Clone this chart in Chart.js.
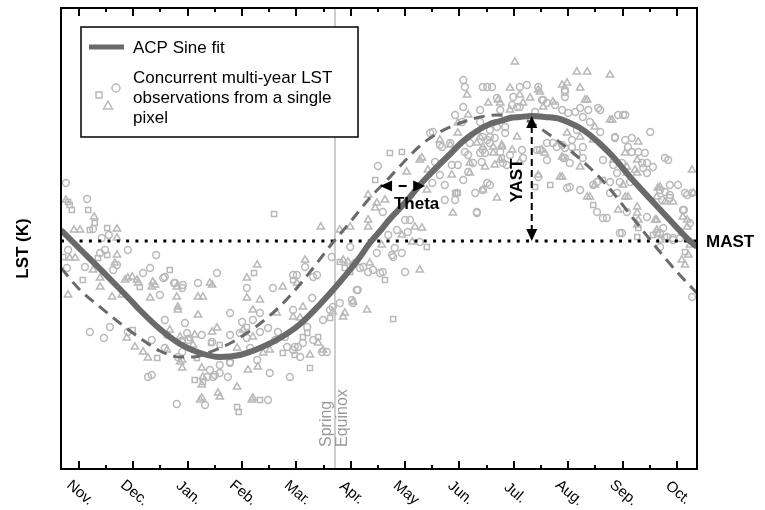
<!DOCTYPE html>
<html>
<head>
<meta charset="utf-8">
<title>LST annual cycle</title>
<script src="https://cdn.jsdelivr.net/npm/chart.js@4.4.1/dist/chart.umd.min.js"></script>
<style>
    html, body { margin: 0; padding: 0; background: #fff; }
    canvas { display: block; }
</style>
</head>
<body>
<canvas id="lst-chart" width="765" height="510"></canvas>
<script>
// x = months since start of Nov. (tick at each month), y = LST in K
const monthLabels = ['Nov.', 'Dec.', 'Jan.', 'Feb.', 'Mar.', 'Apr.', 'May', 'Jun.', 'Jul.', 'Aug.', 'Sep.', 'Oct.'];

const fitMonths = [-0.33, 0, 0.5, 1.0, 1.12, 1.49, 1.86, 2.23, 2.59, 2.96, 3.33, 3.70, 4.07, 4.44, 4.80, 5.17, 5.35, 5.54, 5.72, 5.91, 6.09, 6.27, 6.46, 6.64, 6.83, 7.01, 7.19, 7.38, 7.56, 7.75, 7.93, 8.11, 8.33, 8.57, 8.85, 9.03, 9.22, 9.40, 9.59, 9.83, 10.14, 10.51, 10.87, 11.24, 11.37];
const fitLST = [293.9, 292.1, 289.4, 286.6, 285.9, 284.0, 282.5, 281.6, 281.2, 281.4, 282.1, 283.1, 284.5, 286.5, 288.7, 291.2, 292.6, 293.8, 295.0, 296.1, 297.2, 298.4, 299.5, 300.5, 301.5, 302.5, 303.3, 304.0, 304.5, 304.8, 305.1, 305.2, 305.3, 305.2, 305.0, 304.6, 304.1, 303.4, 302.5, 301.2, 299.2, 297.0, 294.9, 292.8, 292.2];

// same cycle without the phase lag (dashed)
const shiftMonths = [-0.33, 0.02, 0.39, 0.75, 1.12, 1.49, 1.86, 2.13, 2.36, 2.72, 3.09, 3.46, 3.83, 4.25, 4.62, 4.99, 5.35, 5.67, 5.96, 6.27, 6.64, 7.01, 7.38, 7.69, 8.02, 8.30, 8.61, 8.91, 9.22, 9.59, 9.83, 10.19, 10.75, 11.02, 11.28, 11.37];
const shiftLST = [290.1, 287.9, 286.2, 284.6, 283.1, 281.8, 281.2, 281.2, 281.6, 282.4, 283.6, 285.1, 287.0, 289.7, 292.3, 294.7, 297.1, 298.9, 300.6, 302.3, 303.7, 304.6, 305.2, 305.4, 305.2, 304.7, 303.6, 302.4, 301.0, 299.1, 297.6, 295.1, 291.3, 289.6, 288.1, 287.6];

const obsCircles = [
    [-0.24,298.6],[0.15,297.0],[0.26,294.0],[0.42,293.1],[0.55,293.4],[0.90,291.9],[1.42,291.4],[-0.20,291.9],[-0.22,290.1],[0.11,290.2],
    [0.48,291.9],[0.63,289.9],[1.31,290.1],[1.58,289.2],[1.18,289.6],[1.75,288.6],[1.91,288.4],[2.19,288.6],[2.54,289.6],[1.49,287.4],
    [0.20,283.7],[0.46,283.1],[0.57,284.2],[0.90,283.7],[1.34,282.9],[1.34,279.4],[1.27,279.2],[1.62,283.4],[1.90,281.7],[2.01,282.9],
    [2.26,283.4],[2.47,279.2],[2.59,279.6],[2.74,279.2],[1.80,276.5],[2.32,276.4],[3.48,276.9],[2.59,280.4],[2.78,280.6],[2.78,285.6],
    [3.00,284.7],[3.09,288.1],[3.51,279.6],[3.88,279.2],[3.94,281.9],[4.03,282.2],[4.31,282.9],[4.47,281.7],[3.57,288.1],[4.01,289.4],
    [4.31,289.2],[4.29,287.1],[4.49,284.9],[5.13,287.9],[5.02,286.9],[4.65,291.2],[5.17,290.1],[5.41,289.9],[5.54,289.6],[5.50,300.3],
    [0.39,291.6],[0.70,290.4],[1.55,289.1],[1.77,288.6],[1.90,288.1],[1.58,284.9],[1.95,284.6],[3.20,284.9],[3.33,285.6],[3.94,289.4],
    [4.16,290.2],[4.38,289.4],[3.94,285.9],[4.20,284.2],[4.62,285.9],[4.67,286.2],[1.99,283.6],[2.45,282.7],[2.78,283.4],[2.96,283.6],
    [3.09,283.1],[3.33,283.7],[3.48,284.1],[3.66,283.7],[3.61,282.9],[3.28,280.9],[3.15,282.1],[3.79,283.2],[3.83,282.2],[3.97,282.2],
    [4.07,281.2],[4.12,282.6],[4.56,281.7],[1.58,282.1],[1.82,281.2],[2.41,279.9],[2.78,280.7],[2.36,279.2],[2.50,279.4],
    [6.46,303.6],[6.64,302.4],[6.55,300.7],[6.64,299.4],[6.73,298.4],[6.50,298.6],[7.07,298.9],[7.51,302.9],[7.16,301.4],[7.41,300.7],
    [6.97,300.4],[7.75,301.7],[7.80,300.6],[7.56,298.4],[6.95,297.6],[6.92,296.9],[6.73,296.9],[7.32,295.6],[5.59,295.7],[6.00,294.9],
    [6.09,294.9],[5.85,293.9],[5.69,293.4],[6.05,293.7],[6.27,292.7],[6.00,289.7],[5.76,291.4],[5.81,292.1],[5.48,291.6],[4.99,292.2],
    [5.08,290.6],[5.23,290.2],[5.32,289.7],[5.11,287.9],[4.80,286.6],[5.04,286.6],[5.78,291.2],[5.94,291.6],[5.59,289.7],
    [7.07,308.9],[7.10,308.2],[7.51,308.2],[8.11,308.2],[8.24,308.4],[8.45,308.2],[8.94,307.9],[8.94,307.2],[7.69,307.1],[7.99,307.2],
    [8.54,306.9],[7.07,306.2],[7.38,305.9],[6.92,305.4],[8.11,306.2],[8.39,305.7],[8.89,305.9],[9.00,305.6],[9.22,306.1],[9.27,305.2],
    [9.55,306.1],[9.92,305.4],[10.05,305.4],[9.40,304.7],[9.59,303.7],[9.16,303.9],[9.07,302.9],[9.86,303.2],[10.51,303.7],[10.05,302.9],
    [10.10,302.2],[10.17,301.7],[10.29,301.7],[10.41,301.6],[10.78,301.1],[10.36,300.6],[10.45,300.6],[10.56,300.2],[10.45,299.6],[10.87,298.4],
    [11.02,298.4],[11.15,297.6],[11.28,297.6],[11.13,295.9],[10.87,297.4],[10.75,294.1],[10.93,293.1],[6.51,303.7],[6.83,302.6],[6.68,302.2],
    [6.86,300.4],[7.10,301.7],[7.19,302.6],[7.56,303.2],[7.65,303.1],[7.38,301.6],[7.16,299.7],[7.87,300.4],[7.93,301.4],[7.84,303.6],
    [7.84,304.2],[8.15,301.9],[8.17,301.1],[8.48,301.9],[8.61,302.6],[8.89,302.4],[8.94,302.1],[9.07,302.2],[8.91,301.1],[8.98,298.1],
    [9.22,297.9],[9.16,301.6],[9.27,301.1],[8.72,302.6],[7.29,297.6],[7.32,295.7],[9.53,295.7],[9.71,295.1],[9.77,298.7],[9.90,299.6],
    [9.95,298.7],[10.08,295.7],[10.45,295.2],[10.63,293.6],[9.99,293.6],[10.93,292.9],[11.28,287.2],[10.84,300.9],[11.19,297.4],[11.11,295.9],
    [11.24,294.6],[10.69,292.2],[9.64,295.1],[9.95,293.6],[10.69,293.6],[10.82,293.2],[11.06,293.1],[9.77,297.6],[9.90,297.6],[9.46,298.4],
    [10.14,298.7],[10.38,300.1],[10.69,297.9],[10.78,297.7],[10.73,296.9],[10.87,297.1],[7.43,308.2],[7.60,308.2],[7.75,305.9],[7.97,306.4],
    [8.06,306.2],[8.52,306.9],[8.61,306.6],[8.76,306.4],[8.94,307.7],[9.13,305.7],[9.37,305.9],[9.59,305.9],[10.01,305.4],[10.17,303.1],
    [9.86,303.1],[7.05,304.7],[7.38,304.7],[7.56,303.9],[7.69,304.2],[7.43,303.2],[7.56,302.6],[7.43,301.9],[7.47,301.6],[7.25,300.6],
    [7.51,298.6],[7.43,297.9],[8.43,301.9],[8.61,300.9],[8.79,302.2],[8.94,301.1],[9.03,300.6],[9.03,298.2],[9.53,298.7],[9.27,302.2],
    [9.64,300.9],[9.83,300.4],[9.99,300.6],[8.45,299.2]
];

const obsSquares = [
    [-0.17,296.4],[-0.13,295.9],[0.17,295.9],[0.20,293.9],[0.52,294.1],[3.59,295.5],[5.45,298.9],[-0.20,296.7],[0.29,294.6],[-0.29,291.2],
    [0.07,288.9],[0.35,291.1],[1.67,289.9],[1.12,288.2],[0.99,283.9],[1.44,281.1],[2.17,281.1],[2.43,282.6],[2.13,278.9],[2.28,278.7],
    [2.91,276.2],[2.94,275.7],[3.33,276.9],[3.09,284.2],[3.22,289.6],[4.25,280.1],[3.75,281.6],[4.12,283.2],[3.94,288.9],[4.62,285.1],
    [4.80,290.7],[4.89,290.1],[4.99,289.7],[5.04,290.4],[0.52,291.4],[1.91,282.9],[2.04,283.1],[2.59,282.4],[3.97,281.4],[4.20,283.6],
    [4.40,283.2],[5.72,301.6],[5.94,301.7],[6.97,297.6],[6.40,292.2],[5.63,288.9],[5.78,285.0],[11.15,291.7],[7.78,301.1],[8.39,298.2],
    [8.67,298.4],[6.92,297.6],[9.46,296.4],[9.64,298.9],[10.27,293.2],[10.78,293.2],[10.29,294.1],[10.56,293.4]
];

const obsTriangles = [
    [-0.24,296.9],[0.28,295.2],[0.02,293.9],[-0.09,293.9],[0.70,294.0],[4.45,294.2],[5.32,297.4],[5.48,296.6],[0.70,293.1],[-0.17,291.1],
    [0.26,289.9],[0.70,291.4],[0.66,290.6],[-0.20,287.4],[0.90,289.1],[1.07,288.9],[1.40,288.4],[1.80,287.2],[2.45,288.4],[2.19,287.2],
    [2.28,287.2],[0.39,288.2],[0.61,287.2],[0.79,287.4],[1.31,287.1],[1.82,286.2],[0.39,289.1],[-0.07,291.1],[0.85,288.9],[0.98,289.2],
    [1.36,288.7],[1.09,288.6],[1.34,288.2],[2.41,288.6],[1.82,285.9],[2.19,285.4],[0.88,283.1],[1.03,282.2],[1.18,281.7],[1.27,281.1],
    [1.62,281.9],[1.86,280.7],[1.90,280.1],[2.13,283.4],[2.54,284.1],[2.26,278.4],[2.56,277.6],[2.59,277.2],[2.91,278.2],[3.18,276.9],
    [2.23,276.9],[3.09,289.1],[3.28,290.4],[3.09,287.1],[3.33,286.9],[3.11,279.9],[3.29,280.2],[4.40,282.6],[4.49,281.9],[3.75,288.2],
    [4.16,290.9],[3.94,285.2],[4.12,286.2],[4.67,285.7],[4.86,285.2],[5.30,285.9],[5.04,286.7],[5.35,290.6],[1.80,288.2],[3.20,285.9],
    [3.64,285.6],[4.01,288.6],[4.07,285.1],[1.67,283.9],[1.86,283.2],[2.10,282.4],[2.45,283.7],[3.02,283.9],[3.20,283.2],[3.51,281.9],
    [3.39,281.6],[2.91,282.1],[4.25,281.4],[1.90,280.9],[2.26,280.1],[2.28,279.2],[2.26,277.1],[3.20,277.1],
    [6.27,300.9],[6.03,299.7],[6.97,304.6],[6.83,302.4],[6.42,299.9],[6.86,299.4],[6.40,297.9],[7.32,302.6],[7.62,301.6],[7.19,300.6],
    [7.78,302.4],[7.43,297.9],[7.69,297.1],[6.88,295.6],[5.63,296.9],[5.45,296.1],[5.32,294.9],[4.99,294.2],[4.80,293.9],[5.32,294.2],
    [6.18,294.2],[6.31,294.1],[5.94,293.4],[6.13,292.7],[6.27,289.9],[5.57,292.4],[4.86,290.9],[4.95,290.7],[4.89,285.6],
    [8.02,310.7],[9.16,309.7],[9.35,309.7],[9.77,309.4],[7.14,307.4],[7.93,308.1],[8.48,307.7],[8.89,308.4],[9.22,308.1],[9.35,306.9],
    [8.30,307.1],[7.53,306.6],[7.75,306.6],[8.17,306.6],[8.72,306.7],[8.54,306.2],[7.16,305.4],[7.93,305.9],[9.77,304.9],[9.49,304.2],
    [8.98,303.6],[9.22,303.2],[10.29,302.7],[10.05,301.6],[9.83,300.9],[11.28,299.9],[10.23,299.9],[10.08,299.6],[10.69,298.2],[11.30,297.6],
    [10.93,296.7],[11.11,295.2],[11.19,294.9],[10.63,297.2],[10.63,294.9],[11.09,293.6],[11.24,292.4],[6.31,301.1],[6.64,302.9],[6.97,303.6],
    [7.38,303.2],[8.06,303.2],[7.43,302.2],[7.62,302.2],[7.47,300.2],[7.65,300.4],[8.57,301.6],[8.89,301.2],[8.85,299.2],[9.40,297.2],
    [9.22,300.2],[8.45,299.4],[9.49,298.4],[10.05,297.2],[10.27,295.6],[10.27,294.4],[10.69,292.9],[11.09,290.9],[11.15,290.4],[11.21,291.4],
    [11.19,294.2],[9.92,295.9],[10.10,297.2],[10.27,296.2],[10.29,294.9],[10.60,294.9],[10.63,293.9],[10.01,298.4],[10.27,299.6],[10.65,298.1],
    [10.78,296.7],[7.71,306.9],[8.11,307.4],[8.45,307.9],[8.98,308.6],[9.31,306.9],[9.81,304.9],[7.78,302.2],[7.75,300.9],[7.19,299.6],
    [8.11,300.7],[7.97,301.9],[8.52,301.9],[8.89,299.2],[9.35,297.2],[9.46,302.9],[10.08,300.2],[10.27,300.9]
];

// annual cycle parameters
const MAST = 292.8;
const YAST_MONTH = 8.33;
const YAST_PEAK = 305.3;
const THETA_FROM = 5.54;
const THETA_TO = 6.37;
const THETA_LEVEL = 298.3;
const SPRING_EQUINOX = 4.71;

const X_MIN = -0.33, X_MAX = 11.37;
const Y_MIN = 270, Y_MAX = 316.1;

const LINE_GREY = '#6a6a6a';
const OBS_GREY = '#b9b9b9';
const FONT = '"Liberation Sans", Arial, Helvetica, sans-serif';

function toPoints(xs, ys) {
    return xs.map((x, i) => ({x: x, y: ys[i]}));
}

function pairs(list) {
    return list.map(p => ({x: p[0], y: p[1]}));
}

function arrowHead(ctx, x, y, angle, len, half) {
    ctx.save();
    ctx.translate(x, y);
    ctx.rotate(angle);
    ctx.beginPath();
    ctx.moveTo(0, 0);
    ctx.lineTo(-len, -half);
    ctx.lineTo(-len, half);
    ctx.closePath();
    ctx.fill();
    ctx.restore();
}

function line(ctx, x1, y1, x2, y2) {
    ctx.beginPath();
    ctx.moveTo(x1, y1);
    ctx.lineTo(x2, y2);
    ctx.stroke();
}

// frame, inward ticks, rotated month names, annotations and the boxed legend
const paperPlugin = {
    id: 'paper',
    afterDraw(chart) {
        const ctx = chart.ctx;
        const a = chart.chartArea;
        const xs = chart.scales.x;
        const ys = chart.scales.y;
        ctx.save();

        // ticks top and bottom
        ctx.strokeStyle = '#000';
        ctx.lineWidth = 2;
        monthLabels.forEach((label, i) => {
            const px = Math.round(xs.getPixelForValue(i));
            line(ctx, px, a.bottom, px, a.bottom - 8);
            line(ctx, px, a.top, px, a.top + 8);
            const pm = Math.round(xs.getPixelForValue(i + 0.5));
            if (pm < a.right - 2) {
                line(ctx, pm, a.bottom, pm, a.bottom - 4);
                line(ctx, pm, a.top, pm, a.top + 4);
            }
        });

        // frame
        ctx.lineWidth = 2;
        ctx.strokeRect(a.left, a.top, a.right - a.left, a.bottom - a.top);

        // month names
        ctx.fillStyle = '#000';
        ctx.font = '15px ' + FONT;
        ctx.textAlign = 'center';
        ctx.textBaseline = 'middle';
        monthLabels.forEach((label, i) => {
            const px = xs.getPixelForValue(i);
            ctx.save();
            ctx.translate(px + 1, a.bottom + 24);
            ctx.rotate(40 * Math.PI / 180);
            ctx.fillText(label, 0, 0);
            ctx.restore();
        });

        // y title
        ctx.font = 'bold 17px ' + FONT;
        ctx.save();
        ctx.translate(23, (a.top + a.bottom) / 2 + 10);
        ctx.rotate(-Math.PI / 2);
        ctx.fillText('LST (K)', 0, 0);
        ctx.restore();

        // MAST
        const yMast = ys.getPixelForValue(MAST);
        ctx.textAlign = 'left';
        ctx.fillText('MAST', a.right + 9, yMast + 1);

        // Spring Equinox
        const xEq = xs.getPixelForValue(SPRING_EQUINOX);
        ctx.fillStyle = '#9a9a9a';
        ctx.font = '16px ' + FONT;
        ctx.save();
        ctx.translate(xEq, a.bottom - 22);
        ctx.rotate(-Math.PI / 2);
        ctx.textAlign = 'left';
        ctx.fillText('Spring', 0, -8);
        ctx.fillText('Equinox', 0, 8);
        ctx.restore();

        // YAST arrow
        ctx.fillStyle = '#000';
        ctx.strokeStyle = '#000';
        const xY = xs.getPixelForValue(YAST_MONTH);
        const yTop = ys.getPixelForValue(YAST_PEAK);
        ctx.lineWidth = 2;
        ctx.setLineDash([7, 4]);
        line(ctx, xY, yTop + 10, xY, yMast - 10);
        ctx.setLineDash([]);
        arrowHead(ctx, xY, yTop, -Math.PI / 2, 12, 5.5);
        arrowHead(ctx, xY, yMast, Math.PI / 2, 12, 5.5);
        ctx.font = 'bold 17px ' + FONT;
        ctx.textAlign = 'center';
        ctx.save();
        ctx.translate(xY - 14, (yTop + yMast) / 2 + 2);
        ctx.rotate(-Math.PI / 2);
        ctx.fillText('YAST', 0, 0);
        ctx.restore();

        // Theta arrow
        const xT1 = xs.getPixelForValue(THETA_FROM);
        const xT2 = xs.getPixelForValue(THETA_TO);
        const yT = ys.getPixelForValue(THETA_LEVEL);
        ctx.lineWidth = 2;
        line(ctx, (xT1 + xT2) / 2 - 4, yT, (xT1 + xT2) / 2 + 4, yT);
        arrowHead(ctx, xT1, yT, Math.PI, 12, 5.5);
        arrowHead(ctx, xT2, yT, 0, 12, 5.5);
        ctx.fillText('Theta', (xT1 + xT2) / 2 + 14, yT + 18);

        // legend box
        ctx.fillStyle = '#fff';
        ctx.fillRect(81, 27, 277, 110);
        ctx.strokeStyle = '#000';
        ctx.lineWidth = 1.5;
        ctx.strokeRect(81, 27, 277, 110);
        ctx.strokeStyle = LINE_GREY;
        ctx.lineWidth = 5;
        line(ctx, 89, 47, 124, 47);
        ctx.fillStyle = '#000';
        ctx.font = '17px ' + FONT;
        ctx.textAlign = 'left';
        ctx.textBaseline = 'alphabetic';
        ctx.fillText('ACP Sine fit', 133, 53);
        ctx.fillText('Concurrent multi-year LST', 133, 83);
        ctx.fillText('observations from a single', 133, 103);
        ctx.fillText('pixel', 133, 123);

        ctx.strokeStyle = OBS_GREY;
        ctx.lineWidth = 1.5;
        ctx.strokeRect(96, 92, 6, 6);
        ctx.beginPath();
        ctx.arc(116, 88, 4, 0, Math.PI * 2);
        ctx.stroke();
        ctx.beginPath();
        ctx.moveTo(108, 101);
        ctx.lineTo(112.5, 109);
        ctx.lineTo(103.5, 109);
        ctx.closePath();
        ctx.stroke();

        ctx.restore();
    }
};

const obsStyle = {
    showLine: false,
    borderColor: OBS_GREY,
    backgroundColor: 'rgba(0,0,0,0)',
    borderWidth: 1.5
};

new Chart(document.getElementById('lst-chart'), {
    type: 'scatter',
    data: {
        datasets: [
            {
                label: 'ACP Sine fit',
                data: toPoints(fitMonths, fitLST),
                showLine: true,
                borderColor: LINE_GREY,
                borderWidth: 6,
                pointRadius: 0,
                cubicInterpolationMode: 'monotone',
                order: 0
            },
            {
                label: 'no lag',
                data: toPoints(shiftMonths, shiftLST),
                showLine: true,
                borderColor: LINE_GREY,
                borderWidth: 3,
                borderDash: [11, 7],
                pointRadius: 0,
                cubicInterpolationMode: 'monotone',
                order: 1
            },
            {
                label: 'MAST',
                data: toPoints([X_MIN, X_MAX], [MAST, MAST]),
                showLine: true,
                borderColor: '#000',
                borderWidth: 3,
                borderDash: [3, 6.3],
                pointRadius: 0,
                order: 2
            },
            Object.assign({label: 'obs circles', data: pairs(obsCircles), pointStyle: 'circle', pointRadius: 3.4, order: 3}, obsStyle),
            Object.assign({label: 'obs squares', data: pairs(obsSquares), pointStyle: 'rect', pointRadius: 3.6, order: 4}, obsStyle),
            Object.assign({label: 'obs triangles', data: pairs(obsTriangles), pointStyle: 'triangle', pointRadius: 4.2, order: 5}, obsStyle),
            {
                label: 'Spring Equinox',
                data: toPoints([SPRING_EQUINOX, SPRING_EQUINOX], [Y_MIN, Y_MAX]),
                showLine: true,
                borderColor: '#cdcdcd',
                borderWidth: 2,
                pointRadius: 0,
                order: 6
            }
        ]
    },
    options: {
        responsive: false,
        animation: false,
        devicePixelRatio: 1,
        events: [],
        layout: {
            padding: {left: 61, right: 68, top: 8, bottom: 41}
        },
        scales: {
            x: {type: 'linear', min: X_MIN, max: X_MAX, display: false},
            y: {type: 'linear', min: Y_MIN, max: Y_MAX, display: false}
        },
        plugins: {
            legend: {display: false},
            tooltip: {enabled: false}
        }
    },
    plugins: [paperPlugin]
});
</script>
</body>
</html>
